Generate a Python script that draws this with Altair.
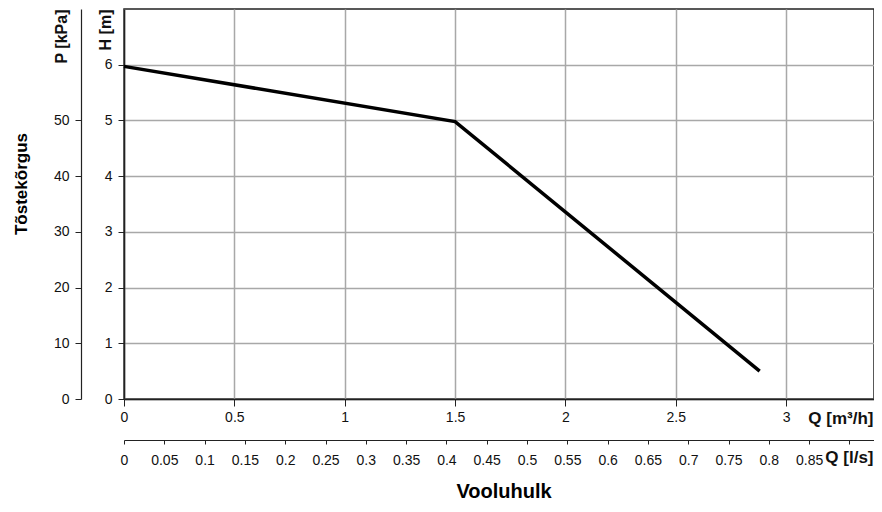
import altair as alt
import pandas as pd

# ---- data ----
flow_m3h = [0.0, 1.5, 2.88]
head_m = [5.97, 4.98, 0.5]

m3h_ticks = [0, 0.5, 1, 1.5, 2, 2.5, 3]
ls_ticks = [0, 0.05, 0.1, 0.15, 0.2, 0.25, 0.3, 0.35, 0.4, 0.45, 0.5,
            0.55, 0.6, 0.65, 0.7, 0.75, 0.8, 0.85, 0.9]
head_ticks = [0, 1, 2, 3, 4, 5, 6]
kpa_ticks = [0, 10, 20, 30, 40, 50]

m3h_domain = [0, 3.398]
ls_domain = [0, 0.9305]
head_domain = [0, 7]
kpa_domain = [0, 70]

y_title = ["Tõstekõrgus"]
x_title = ["Vooluhulk"]

FONT = "Liberation Sans"
GRID = "#a8a8a8"
DARK = "#222222"

curve = pd.DataFrame({"q": flow_m3h, "h": head_m})
secondary = pd.DataFrame({"ls": ls_domain, "kpa": kpa_domain})

main = alt.Chart(curve).mark_line(color="black", strokeWidth=3.5).encode(
    x=alt.X("q:Q",
            scale=alt.Scale(domain=m3h_domain, nice=False, zero=False),
            axis=alt.Axis(orient="bottom", offset=0, values=m3h_ticks,
                          format="~g", title="Q [m³/h]",
                          titleX=749, titleY=19, titleAlign="right",
                          titleBaseline="middle", titleFontSize=17,
                          titleFontWeight="bold", tickSize=7, labelPadding=4,
                          grid=True, gridColor=GRID, gridWidth=1.5,
                          domainColor=DARK, domainWidth=1.5, tickColor=DARK,
                          labelFontSize=14, labelFlush=False,
                          labelOverlap=False)),
    y=alt.Y("h:Q",
            scale=alt.Scale(domain=head_domain, nice=False),
            axis=alt.Axis(orient="left", offset=0, values=head_ticks,
                          title="H [m]", titleAngle=270,
                          titleAlign="right", titleBaseline="middle",
                          titleX=-19, titleY=0, titleFontSize=16,
                          titleFontWeight="bold", tickSize=6, labelPadding=6,
                          grid=True, gridColor=GRID, gridWidth=1.5,
                          domainColor=DARK, domainWidth=1.5, tickColor=DARK,
                          labelFontSize=14, labelOverlap=False,
                          labelFlush=False)),
)

second = alt.Chart(secondary).mark_point(opacity=0).encode(
    x=alt.X("ls:Q",
            scale=alt.Scale(domain=ls_domain, nice=False, zero=False),
            axis=alt.Axis(orient="bottom", offset=41, values=ls_ticks,
                          labelExpr="datum.value > 0.88 ? '' : format(datum.value, '~g')",
                          title="Q [l/s]", titleX=749, titleY=17,
                          titleAlign="right", titleBaseline="middle",
                          titleFontSize=17, titleFontWeight="bold",
                          tickSize=4, labelPadding=9, grid=False,
                          domainColor=DARK, domainWidth=1.2, tickColor=DARK,
                          labelFontSize=14, labelFlush=False,
                          labelOverlap=False)),
    y=alt.Y("kpa:Q",
            scale=alt.Scale(domain=kpa_domain, nice=False),
            axis=alt.Axis(orient="left", offset=43, values=kpa_ticks,
                          title="P [kPa]", titleAngle=270, titleAlign="right",
                          titleBaseline="middle", titleX=-20, titleY=0,
                          titleFontSize=16, titleFontWeight="bold",
                          tickSize=6, labelPadding=6, grid=False,
                          domainColor=DARK, domainWidth=1.2, tickColor=DARK,
                          labelFontSize=14, labelOverlap=False,
                          labelFlush=False)),
)

ytitle = alt.Chart(pd.DataFrame({"t": y_title})).mark_text(
    angle=270, fontSize=17, fontWeight="bold", font=FONT, color="black",
    align="center", baseline="middle"
).encode(text="t:N", x=alt.value(-102), y=alt.value(175))

xtitle = alt.Chart(pd.DataFrame({"t": x_title})).mark_text(
    fontSize=20, fontWeight="bold", font=FONT, color="black",
    align="center", baseline="middle"
).encode(text="t:N", x=alt.value(380), y=alt.value(483))

chart = alt.layer(main, second, ytitle, xtitle).resolve_scale(
    x="independent", y="independent"
).properties(
    width=750, height=390,
    autosize=alt.AutoSizeParams(type="none"),
    padding={"left": 116, "top": 1, "right": 0, "bottom": 103},
).configure(
    font=FONT,
).configure_axis(
    labelFont=FONT, titleFont=FONT, labelColor="#111", titleColor="#111",
).configure_view(
    stroke=DARK, strokeWidth=1.5,
)

chart.save("out.html", embed_options={"renderer": "svg", "actions": False})
